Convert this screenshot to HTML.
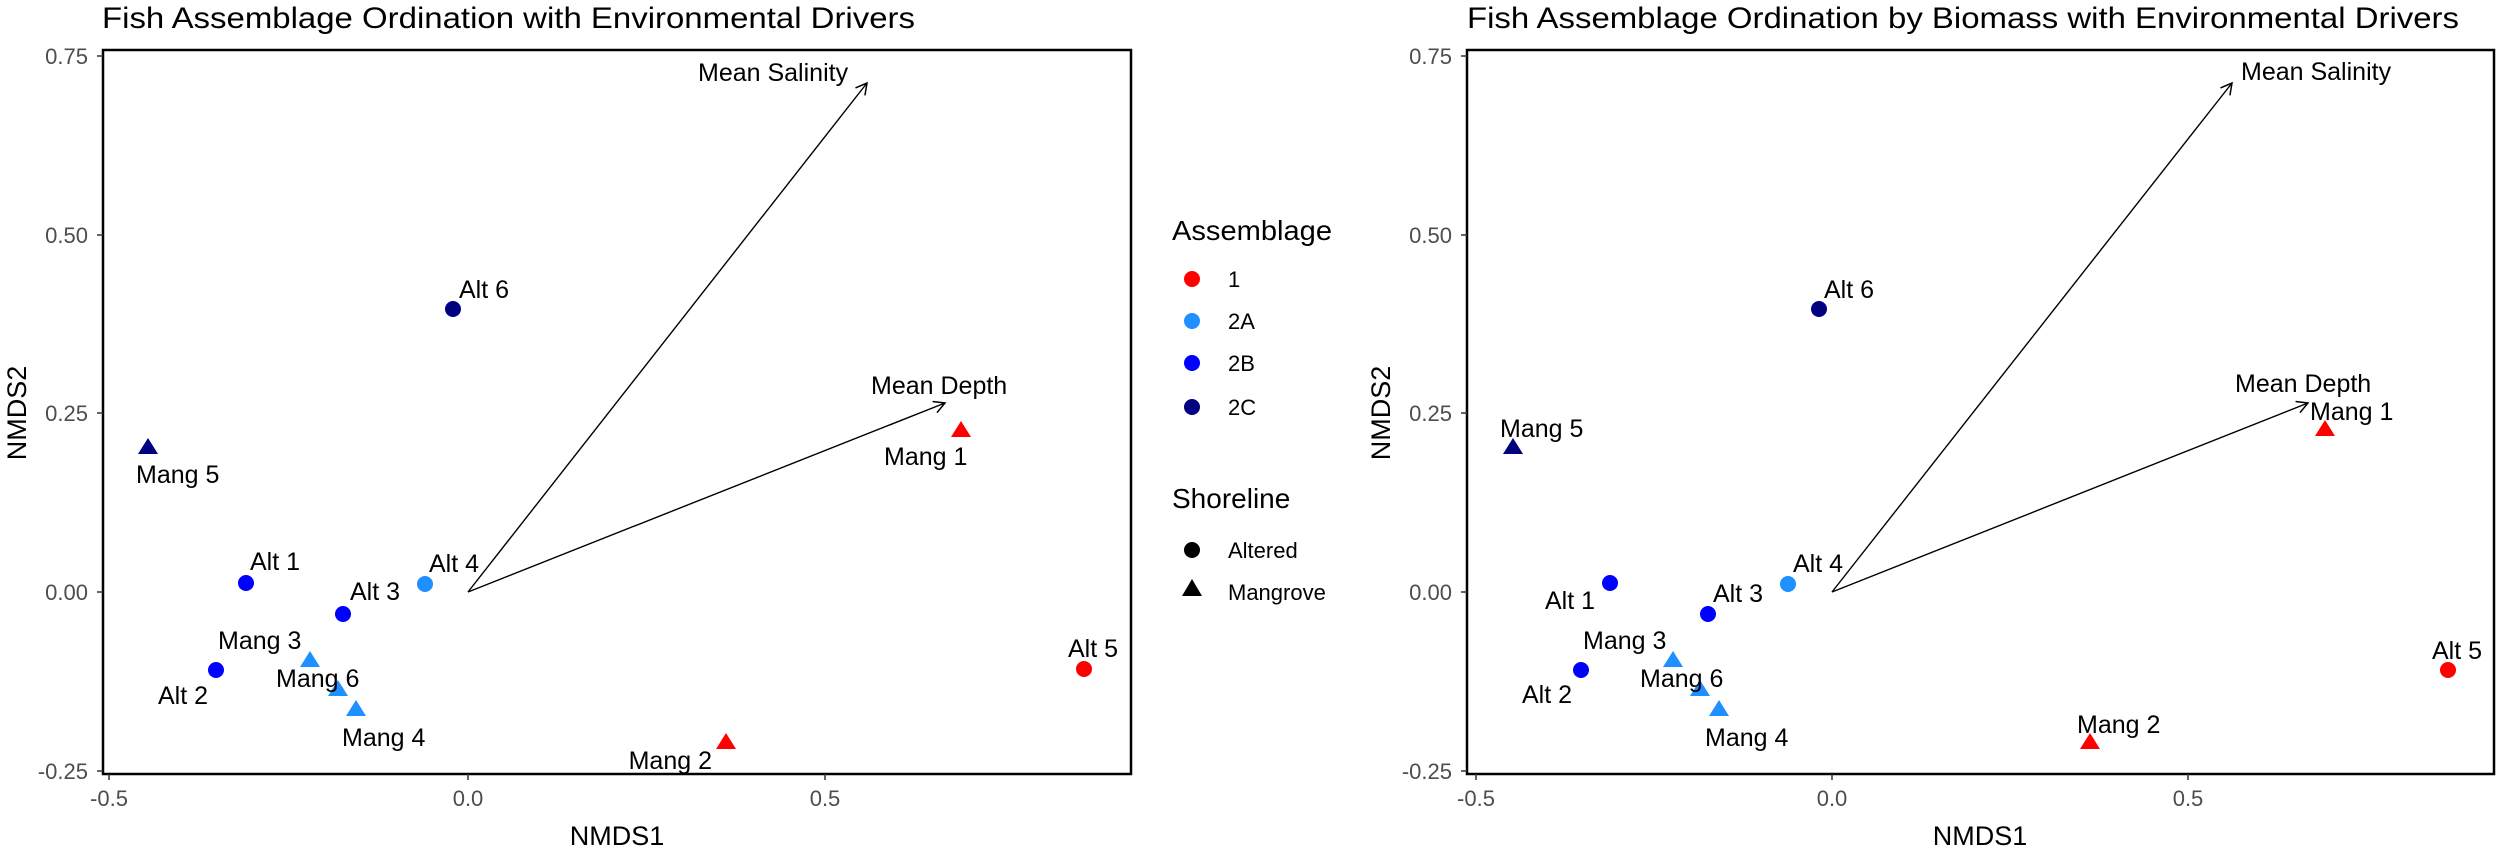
<!DOCTYPE html>
<html><head><meta charset="utf-8"><style>
html,body{margin:0;padding:0;background:#fff;}
svg{display:block;font-family:"Liberation Sans",Arial,sans-serif;}
.t{font-size:30px;fill:#000;}
.tk{font-size:22px;fill:#4d4d4d;}
.ax{font-size:27px;fill:#000;}
.lb{font-size:25px;fill:#000;}
.lt{font-size:28px;fill:#000;}
.li{font-size:22px;fill:#000;}
</style></head><body>
<svg width="2500" height="852" viewBox="0 0 2500 852" xmlns="http://www.w3.org/2000/svg">
<defs>
<marker id="ah" markerWidth="14" markerHeight="14" refX="12" refY="7" orient="auto" markerUnits="userSpaceOnUse">
<path d="M1,1 L12,7 L1,13" fill="none" stroke="#000" stroke-width="1.5"/>
</marker>
</defs>

<!-- LEFT PANEL -->
<text class="t" x="102" y="28" textLength="813" lengthAdjust="spacingAndGlyphs">Fish Assemblage Ordination with Environmental Drivers</text>
<rect x="103" y="50" width="1028" height="724" fill="none" stroke="#000" stroke-width="2.5"/>
<g stroke="#333" stroke-width="1.5">
<line x1="97" y1="56" x2="103" y2="56"/><line x1="97" y1="235" x2="103" y2="235"/><line x1="97" y1="413" x2="103" y2="413"/><line x1="97" y1="592" x2="103" y2="592"/><line x1="97" y1="771" x2="103" y2="771"/>
<line x1="109" y1="774" x2="109" y2="780"/><line x1="468" y1="774" x2="468" y2="780"/><line x1="825" y1="774" x2="825" y2="780"/>
</g>
<g class="tk" text-anchor="end">
<text x="88" y="64">0.75</text><text x="88" y="243">0.50</text><text x="88" y="421">0.25</text><text x="88" y="600">0.00</text><text x="88" y="779">-0.25</text>
</g>
<g class="tk" text-anchor="middle">
<text x="109" y="806">-0.5</text><text x="468" y="806">0.0</text><text x="825" y="806">0.5</text>
</g>
<text class="ax" x="617" y="845" text-anchor="middle">NMDS1</text>
<text class="ax" transform="translate(26,413) rotate(-90)" text-anchor="middle">NMDS2</text>

<line x1="468" y1="592" x2="867" y2="83" stroke="#000" stroke-width="1.4" marker-end="url(#ah)"/>
<line x1="468" y1="592" x2="945" y2="403" stroke="#000" stroke-width="1.4" marker-end="url(#ah)"/>
<text class="lb" x="698" y="81">Mean Salinity</text>
<text class="lb" x="871" y="394">Mean Depth</text>

<g>
<circle cx="453" cy="309" r="8" fill="#000080"/>
<polygon points="148,438 158,454 138,454" fill="#000080"/>
<circle cx="246" cy="583" r="8" fill="#0000ff"/>
<circle cx="425" cy="584" r="8" fill="#1e90ff"/>
<circle cx="343" cy="614" r="8" fill="#0000ff"/>
<polygon points="310,651 320,667 300,667" fill="#1e90ff"/>
<circle cx="216" cy="670" r="8" fill="#0000ff"/>
<polygon points="338,680 348,696 328,696" fill="#1e90ff"/>
<polygon points="356,700 366,716 346,716" fill="#1e90ff"/>
<polygon points="726,733 736,749 716,749" fill="#ff0000"/>
<polygon points="961,421 971,437 951,437" fill="#ff0000"/>
<circle cx="1084" cy="669" r="8" fill="#ff0000"/>
</g>
<g class="lb">
<text x="459" y="298">Alt 6</text>
<text x="136" y="483">Mang 5</text>
<text x="250" y="570">Alt 1</text>
<text x="429" y="572">Alt 4</text>
<text x="350" y="600">Alt 3</text>
<text x="218" y="649">Mang 3</text>
<text x="158" y="704">Alt 2</text>
<text x="276" y="687">Mang 6</text>
<text x="342" y="746">Mang 4</text>
<text x="712" y="769" text-anchor="end">Mang 2</text>
<text x="884" y="465">Mang 1</text>
<text x="1068" y="657">Alt 5</text>
</g>

<!-- LEGEND -->
<text class="lt" x="1172" y="240" textLength="160" lengthAdjust="spacingAndGlyphs">Assemblage</text>
<circle cx="1192" cy="279" r="8" fill="#ff0000"/><text class="li" x="1228" y="287">1</text>
<circle cx="1192" cy="321" r="8" fill="#1e90ff"/><text class="li" x="1228" y="329">2A</text>
<circle cx="1192" cy="363" r="8" fill="#0000ff"/><text class="li" x="1228" y="371">2B</text>
<circle cx="1192" cy="407" r="8" fill="#000080"/><text class="li" x="1228" y="415">2C</text>
<text class="lt" x="1172" y="508">Shoreline</text>
<circle cx="1192" cy="550" r="8" fill="#000"/><text class="li" x="1228" y="558">Altered</text>
<polygon points="1192,579 1202,596 1182,596" fill="#000"/><text class="li" x="1228" y="600">Mangrove</text>

<!-- RIGHT PANEL -->
<text class="t" x="1467" y="28" textLength="992" lengthAdjust="spacingAndGlyphs">Fish Assemblage Ordination by Biomass with Environmental Drivers</text>
<rect x="1467" y="50" width="1027" height="724" fill="none" stroke="#000" stroke-width="2.5"/>
<g stroke="#333" stroke-width="1.5">
<line x1="1461" y1="56" x2="1467" y2="56"/><line x1="1461" y1="235" x2="1467" y2="235"/><line x1="1461" y1="413" x2="1467" y2="413"/><line x1="1461" y1="592" x2="1467" y2="592"/><line x1="1461" y1="771" x2="1467" y2="771"/>
<line x1="1476" y1="774" x2="1476" y2="780"/><line x1="1832" y1="774" x2="1832" y2="780"/><line x1="2188" y1="774" x2="2188" y2="780"/>
</g>
<g class="tk" text-anchor="end">
<text x="1452" y="64">0.75</text><text x="1452" y="243">0.50</text><text x="1452" y="421">0.25</text><text x="1452" y="600">0.00</text><text x="1452" y="779">-0.25</text>
</g>
<g class="tk" text-anchor="middle">
<text x="1476" y="806">-0.5</text><text x="1832" y="806">0.0</text><text x="2188" y="806">0.5</text>
</g>
<text class="ax" x="1980" y="845" text-anchor="middle">NMDS1</text>
<text class="ax" transform="translate(1390,413) rotate(-90)" text-anchor="middle">NMDS2</text>

<line x1="1832" y1="592" x2="2232" y2="83" stroke="#000" stroke-width="1.4" marker-end="url(#ah)"/>
<line x1="1832" y1="592" x2="2308" y2="403" stroke="#000" stroke-width="1.4" marker-end="url(#ah)"/>
<text class="lb" x="2241" y="80">Mean Salinity</text>
<text class="lb" x="2235" y="392">Mean Depth</text>

<g>
<circle cx="1819" cy="309" r="8" fill="#000080"/>
<polygon points="1513,438 1523,454 1503,454" fill="#000080"/>
<circle cx="1610" cy="583" r="8" fill="#0000ff"/>
<circle cx="1788" cy="584" r="8" fill="#1e90ff"/>
<circle cx="1708" cy="614" r="8" fill="#0000ff"/>
<polygon points="1673,651 1683,667 1663,667" fill="#1e90ff"/>
<circle cx="1581" cy="670" r="8" fill="#0000ff"/>
<polygon points="1700,680 1710,696 1690,696" fill="#1e90ff"/>
<polygon points="1719,700 1729,716 1709,716" fill="#1e90ff"/>
<polygon points="2090,733 2100,749 2080,749" fill="#ff0000"/>
<polygon points="2325,420 2335,436 2315,436" fill="#ff0000"/>
<circle cx="2448" cy="670" r="8" fill="#ff0000"/>
</g>
<g class="lb">
<text x="1824" y="298">Alt 6</text>
<text x="1500" y="437">Mang 5</text>
<text x="1545" y="609">Alt 1</text>
<text x="1793" y="572">Alt 4</text>
<text x="1713" y="602">Alt 3</text>
<text x="1583" y="649">Mang 3</text>
<text x="1522" y="703">Alt 2</text>
<text x="1640" y="687">Mang 6</text>
<text x="1705" y="746">Mang 4</text>
<text x="2077" y="733">Mang 2</text>
<text x="2310" y="420">Mang 1</text>
<text x="2432" y="659">Alt 5</text>
</g>
</svg>
</body></html>
